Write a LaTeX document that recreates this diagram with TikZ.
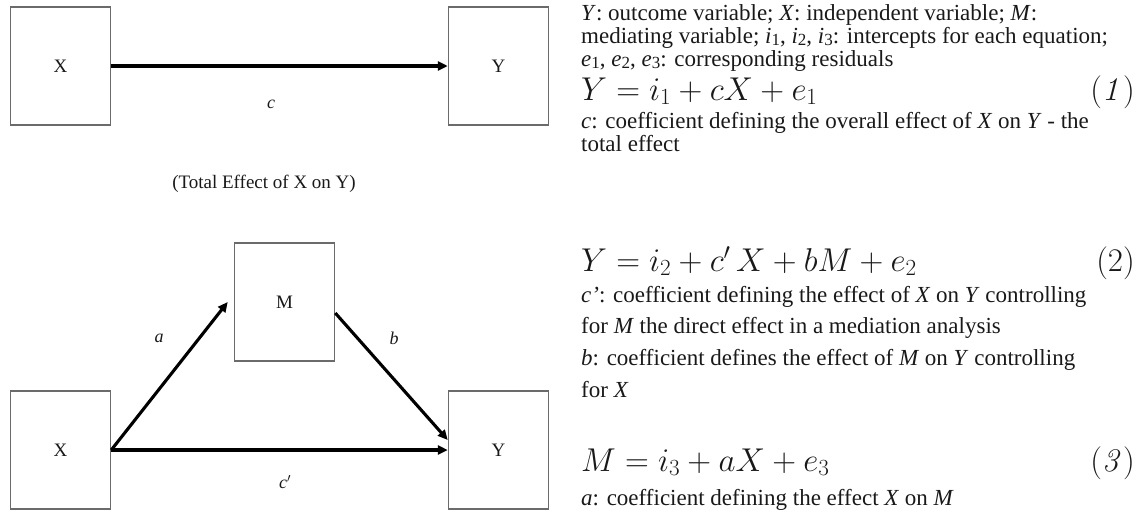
\documentclass[tikz,border=0pt]{standalone}
\usepackage{fix-cm}
\usepackage[no-math]{fontspec}
\setmainfont{Liberation Serif}
\usetikzlibrary{arrows.meta}
\definecolor{boxgray}{gray}{0.42}
\definecolor{txt}{gray}{0.1}
\newcommand\sbx[1]{\raisebox{-0.1em}{\fontsize{17}{17}\selectfont #1}}
\begin{document}
\begin{tikzpicture}[x=1pt,y=-1pt,
  vbox/.style={draw=boxgray, line width=1.5pt, minimum width=100pt, minimum height=118pt, inner sep=0pt, text=txt, font=\fontsize{19}{22}\selectfont},
  arr/.style={line width=3.1pt, -{Triangle[length=10pt,width=9pt]}},
  lab/.style={inner sep=0pt, text=txt, font=\fontsize{18}{20}\selectfont\itshape},
  captext/.style={inner sep=0pt, text=txt, font=\fontsize{19}{22}\selectfont},
  body/.style={anchor=base west, inner sep=0pt, text=txt, font=\fontsize{23}{25}\selectfont},
  eq/.style={anchor=base west, inner sep=0pt, text=txt, font=\fontsize{33}{36}\selectfont},
  eqn/.style={anchor=base east, inner sep=0pt, text=txt, font=\fontsize{33}{36}\selectfont},
]
\useasboundingbox (0,0) rectangle (1147,514);
% top diagram
\node[vbox] (x1) at (60.5,66) {X};
\node[vbox] (y1) at (498.5,66) {Y};
\draw[arr] (x1) -- (y1);
\node[lab] (lc) at (271,104) {c};
\node[captext] (te) at (264,184) {(Total Effect of X on Y)};
% bottom diagram
\node[vbox] (m) at (284.5,302) {M};
\node[vbox] (x2) at (60.5,450) {X};
\node[vbox] (y2) at (498.5,450) {Y};
\draw[arr] (x2.east) -- ([xshift=-6pt]m.west);
\draw[arr] ([yshift=-11pt]m.east) -- ([yshift=10pt]y2.west);
\draw[arr] (x2) -- (y2);
\node[lab] (la) at (159,338) {a};
\node[lab] (lb) at (394,338) {b};
\node[lab] (lcp) at (285,482) {c$'$};
% right text
\node[body] (t1) at (581,20) {\textit{Y}: outcome variable; \textit{X}: independent variable; \textit{M}:};
\node[body] (t2) at (581,43) {mediating variable; \textit{i}\sbx{1}, \textit{i}\sbx{2}, \textit{i}\sbx{3}: intercepts for each equation;};
\node[body] (t3) at (581,66) {\textit{e}\sbx{1}, \textit{e}\sbx{2}, \textit{e}\sbx{3}: corresponding residuals};
\node[eq] (e1) at (581,100) {$Y = i_1 + cX + e_1$};
\node[eqn] (n1) at (1135,100) {$(\mathit{1})$};
\node[body] (t4) at (581,128) {\textit{c}: coefficient defining the overall effect of \textit{X} on \textit{Y} - the};
\node[body] (t5) at (581,151) {total effect};
\node[eq] (e2) at (581,271) {$Y = i_2 + c'\,X + bM + e_2$};
\node[eqn] (n2) at (1135,271) {$(2)$};
\node[body] (t6) at (581,302) {\textit{c’}: coefficient defining the effect of \textit{X} on \textit{Y} controlling};
\node[body] (t7) at (581,333) {for \textit{M} the direct effect in a mediation analysis};
\node[body] (t8) at (581,365) {\textit{b}: coefficient defines the effect of \textit{M} on \textit{Y} controlling};
\node[body] (t9) at (581,397) {for \textit{X}};
\node[eq] (e3) at (581,471) {$M = i_3 + aX + e_3$};
\node[eqn] (n3) at (1135,471) {$(\mathit{3})$};
\node[body] (t10) at (581,505) {\textit{a}: coefficient defining the effect \textit{X} on \textit{M}};
\end{tikzpicture}
\end{document}
